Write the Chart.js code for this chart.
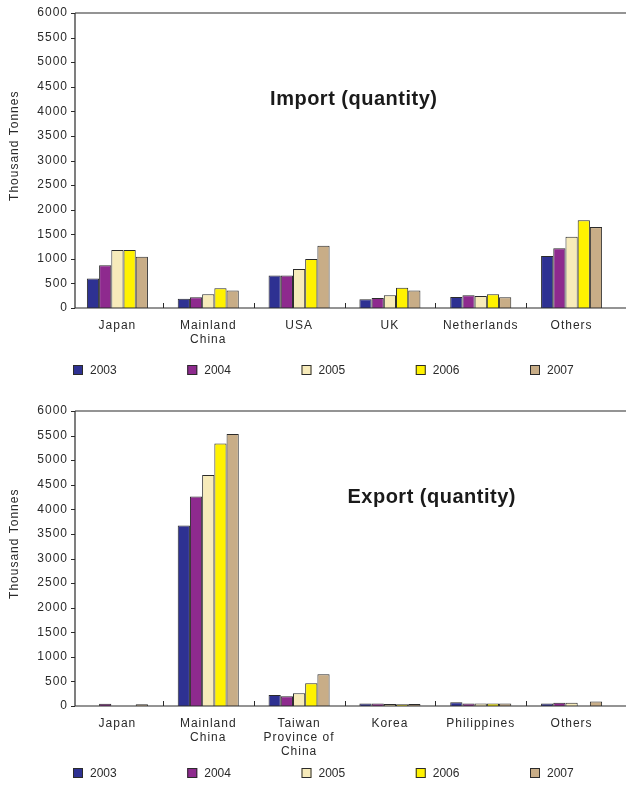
<!DOCTYPE html>
<html>
<head>
<meta charset="utf-8">
<script src="https://cdn.jsdelivr.net/npm/chart.js@4.4.0/dist/chart.umd.min.js"></script>
<style>
  html, body { margin: 0; padding: 0; background: #fff; }
  #wrap { position: relative; width: 626px; height: 785px; overflow: hidden; }
  canvas { position: absolute; left: 0; }
  #c1 { top: 0; }
  #c2 { top: 398px; }
</style>
</head>
<body>
<div id="wrap">
  <canvas id="c1" width="626" height="392"></canvas>
  <canvas id="c2" width="626" height="387"></canvas>
</div>
<script>
// ---------- data ----------
const years = ['2003', '2004', '2005', '2006', '2007'];
const yearColors = ['#2E3192', '#8E2A8E', '#F7EBBA', '#FFF200', '#C8AD87'];
const yTickValues = [0, 500, 1000, 1500, 2000, 2500, 3000, 3500, 4000, 4500, 5000, 5500, 6000];

const importCategories = ['Japan', ['Mainland', 'China'], 'USA', 'UK', 'Netherlands', 'Others'];
const import2003 = [600, 190, 662, 178, 225, 1060];
const import2004 = [867, 219, 662, 205, 260, 1215];
const import2005 = [1180, 280, 793, 260, 246, 1449];
const import2006 = [1180, 403, 998, 410, 280, 1783];
const import2007 = [1040, 355, 1264, 355, 219, 1646];

const exportCategories = ['Japan', ['Mainland', 'China'], ['Taiwan', 'Province of', 'China'], 'Korea', 'Philippines', 'Others'];
const export2003 = [0, 3670, 224, 50, 75, 50];
const export2004 = [45, 4260, 197, 50, 50, 65];
const export2005 = [0, 4700, 258, 40, 50, 65];
const export2006 = [0, 5340, 461, 35, 50, 0];
const export2007 = [35, 5530, 644, 40, 50, 90];

const importTitle = 'Import (quantity)';
const exportTitle = 'Export (quantity)';
const yAxisTitle = 'Thousand Tonnes';

// ---------- helpers ----------
const FONT = '"Liberation Sans", Arial, Helvetica, sans-serif';
const INK = '#2a2a2a';

function makeDatasets(series) {
  return series.map((vals, i) => ({
    label: years[i],
    data: vals,
    backgroundColor: yearColors[i],
    borderColor: '#2b2b2b',
    borderWidth: 1,
    borderSkipped: 'bottom',
    categoryPercentage: 0.672,
    barPercentage: 1.0
  }));
}

const decor = {
  id: 'decor',
  beforeUpdate(chart) { chart.ctx.letterSpacing = '1px'; },
  beforeLayout(chart) { chart.ctx.letterSpacing = '1px'; },
  beforeDraw(chart) { chart.ctx.letterSpacing = '1px'; },
  afterDraw(chart, args, opts) {
    const { ctx, chartArea: a, scales: { x, y } } = chart;
    const axisX = a.left + 3;
    const yTop = y.getPixelForValue(6000);
    const yBot = y.getPixelForValue(0);
    ctx.save();
    ctx.strokeStyle = INK;
    ctx.lineWidth = 1.2;
    ctx.beginPath();
    ctx.moveTo(axisX, yTop); ctx.lineTo(chart.width, yTop);
    ctx.moveTo(axisX, yBot); ctx.lineTo(chart.width, yBot);
    ctx.moveTo(axisX, yTop); ctx.lineTo(axisX, yBot);
    ctx.stroke();
    ctx.lineWidth = 1;
    ctx.beginPath();
    y.ticks.forEach(t => {
      const py = Math.round(y.getPixelForValue(t.value)) + 0.5;
      ctx.moveTo(axisX - 4, py); ctx.lineTo(axisX, py);
    });
    const n = chart.data.labels.length;
    for (let i = 1; i < n; i++) {
      const bx = Math.round((x.getPixelForValue(i - 1) + x.getPixelForValue(i)) / 2) + 0.5;
      ctx.moveTo(bx, yBot); ctx.lineTo(bx, yBot - 5);
    }
    ctx.stroke();

    // chart title inside the plot
    ctx.fillStyle = '#1a1a1a';
    ctx.letterSpacing = '0.5px';
    ctx.font = 'bold 20px ' + FONT;
    ctx.textAlign = 'center';
    ctx.textBaseline = 'middle';
    ctx.fillText(opts.title, a.left + a.width * opts.titleX, y.getPixelForValue(4250));

    // y axis title
    ctx.save();
    ctx.letterSpacing = '1px';
    ctx.font = '12px ' + FONT;
    ctx.fillStyle = INK;
    ctx.translate(15, y.getPixelForValue(3300));
    ctx.rotate(-Math.PI / 2);
    ctx.fillText(yAxisTitle, 0, 0);
    ctx.restore();

    // legend
    ctx.letterSpacing = '0px';
    ctx.font = '12px ' + FONT;
    ctx.textAlign = 'left';
    ctx.textBaseline = 'middle';
    chart.data.datasets.forEach((ds, i) => {
      const lx = 73 + i * 114.25;
      const ly = opts.legendY;
      ctx.fillStyle = ds.backgroundColor;
      ctx.fillRect(lx, ly - 5, 10, 10);
      ctx.strokeStyle = '#2b2b2b';
      ctx.lineWidth = 1;
      ctx.strokeRect(lx + 0.5, ly - 4.5, 9, 9);
      ctx.fillStyle = INK;
      ctx.fillText(ds.label, lx + 17, ly + 1);
    });
    ctx.restore();
  }
};

function buildChart(id, categories, series, title, titleX, legendY, xHeight) {
  const canvas = document.getElementById(id);
  return new Chart(canvas, {
    type: 'bar',
    data: { labels: categories, datasets: makeDatasets(series) },
    options: {
      responsive: false,
      animation: false,
      devicePixelRatio: 1,
      layout: { padding: { top: 13, right: 9, left: 0, bottom: 0 } },
      plugins: {
        legend: { display: false },
        tooltip: { enabled: false },
        decor: { title: title, titleX: titleX, legendY: legendY }
      },
      scales: {
        x: {
          grid: { display: false },
          border: { display: false },
          ticks: {
            color: INK,
            font: { family: FONT, size: 12, lineHeight: 1.15 },
            padding: 3,
            maxRotation: 0,
            autoSkip: false
          },
          afterFit(scale) { scale.height = xHeight; }
        },
        y: {
          min: 0,
          max: 6000,
          afterBuildTicks(scale) { scale.ticks = yTickValues.map(v => ({ value: v })); },
          grid: { display: false, drawTicks: false },
          border: { display: false },
          ticks: {
            color: INK,
            font: { family: FONT, size: 12 },
            padding: 4,
            callback: (v) => String(v)
          },
          afterFit(scale) { scale.width = 72; }
        }
      }
    },
    plugins: [decor]
  });
}

buildChart('c1', importCategories, [import2003, import2004, import2005, import2006, import2007], importTitle, 0.517, 370, 84);
buildChart('c2', exportCategories, [export2003, export2004, export2005, export2006, export2007], exportTitle, 0.66, 375, 79);
</script>
</body>
</html>
